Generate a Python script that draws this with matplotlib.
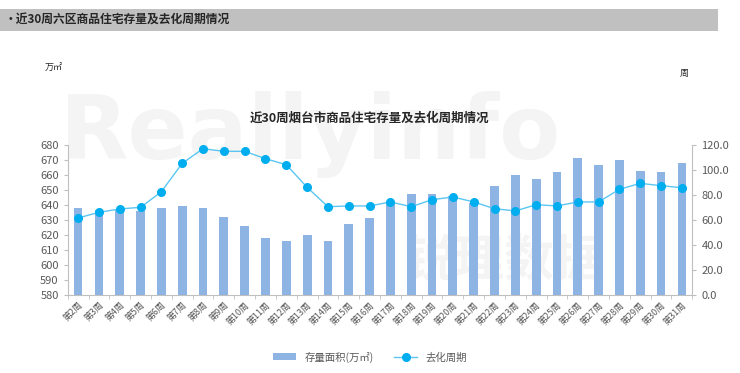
import matplotlib
matplotlib.use("Agg")
import matplotlib.pyplot as plt
from matplotlib.patches import Rectangle
import numpy as np

plt.rcParams['font.family'] = ['Noto Sans CJK SC', 'DejaVu Sans']

weeks = ['第%d周' % i for i in range(2, 32)]
stock = [638, 636.3, 637, 635.6, 638, 639.3, 637.6, 631.6, 625.8, 618,
         616, 619.6, 615.6, 626.9, 631.3, 641, 647.3, 646.9, 645.8, 641.3,
         652.7, 659.6, 657.4, 661.8, 671.1, 666.5, 669.6, 662.5, 661.8, 667.8]
cycle = [61.4, 65.9, 68.6, 69.9, 82.4, 105.1, 116.8, 114.7, 114.7, 108.8,
         104, 85.9, 70.4, 71, 71, 74.2, 70.4, 76, 78.2, 74.2,
         68.8, 67, 72, 71, 74.2, 74.2, 84.3, 89.1, 87.2, 85.6]

bar_color = '#8EB4E3'
line_color = '#5CC6F2'
marker_color = '#00AEEF'
text_color = '#595959'
axis_color = '#BFBFBF'

fig = plt.figure(figsize=(7.4, 3.73), dpi=100)

# header band
fig.patches.append(Rectangle((0, 1 - 31/373), 718/740, 22/373, transform=fig.transFigure,
                             facecolor='#C0C0C0', edgecolor='none', zorder=-2))
fig.text(5/740, 1 - 20/373, '•近30周六区商品住宅存量及去化周期情况', fontsize=8.5,
         fontweight='bold', color='#262626', va='center', ha='left')

# faint watermark, kept behind the axes
fig.text(0.42, 0.64, 'Reallyinfo', fontsize=64, fontweight='bold', color='#F4F4F4',
         ha='center', va='center', zorder=-1, family=['DejaVu Sans'])
fig.text(505/740, 1 - 262/373, '锐理数据', fontsize=36, fontweight='bold', color='#F4F4F4',
         ha='center', va='center', zorder=-1)

ax = fig.add_axes([67.7/740, 1 - 294.7/373, 624.6/740, 150/373])
ax.patch.set_alpha(0)
x = np.arange(len(weeks))
bars = ax.bar(x, stock, width=0.42, color=bar_color, label='存量面积(万㎡)', zorder=2)
ax.set_ylim(580, 680)
ax.set_yticks(np.arange(580, 681, 10))
ax.set_xlim(-0.5, len(weeks) - 0.5)
ax.set_xticks(x)
ax.set_xticklabels(weeks, rotation=45, ha='right', rotation_mode='anchor',
                   fontsize=6.5, color=text_color)
ax.set_xticks(np.arange(-0.5, len(weeks), 1), minor=True)
ax.tick_params(axis='x', which='major', length=0, pad=4)
ax.tick_params(axis='x', which='minor', length=3, color=axis_color)
ax.tick_params(axis='y', labelsize=8, colors=text_color, length=3, color=axis_color)
for s in ['top', 'right']:
    ax.spines[s].set_visible(False)
for s in ['left', 'bottom']:
    ax.spines[s].set_color(axis_color)

ax2 = ax.twinx()
line, = ax2.plot(x, cycle, color=line_color, lw=1, marker='o', markersize=5.5,
                 markerfacecolor=marker_color, markeredgecolor=marker_color,
                 label='去化周期', zorder=3)
ax2.set_ylim(0, 120)
ax2.set_yticks(np.arange(0, 121, 20))
ax2.set_yticklabels(['%.1f' % v for v in np.arange(0, 121, 20)])
ax2.tick_params(axis='y', labelsize=8, colors=text_color, length=3, color=axis_color)
for s in ['top', 'left', 'bottom']:
    ax2.spines[s].set_visible(False)
ax2.spines['right'].set_color(axis_color)

fig.text(370/740, 1 - 118/373, '近30周烟台市商品住宅存量及去化周期情况', fontsize=9,
         fontweight='bold', color='#262626', ha='center', va='center')
fig.text(45/740, 1 - 68/373, '万㎡', fontsize=6.5, color='#262626', ha='left', va='center')
fig.text(680/740, 1 - 73/373, '周', fontsize=6.5, color='#262626', ha='left', va='center')

fig.legend([bars, line], ['存量面积(万㎡)', '去化周期'], loc='center',
           bbox_to_anchor=(370/740, 1 - 357/373), ncol=2, frameon=False,
           fontsize=7.5, labelcolor=text_color, handlelength=2.2, columnspacing=2)

fig.savefig('out.png', dpi=100)
